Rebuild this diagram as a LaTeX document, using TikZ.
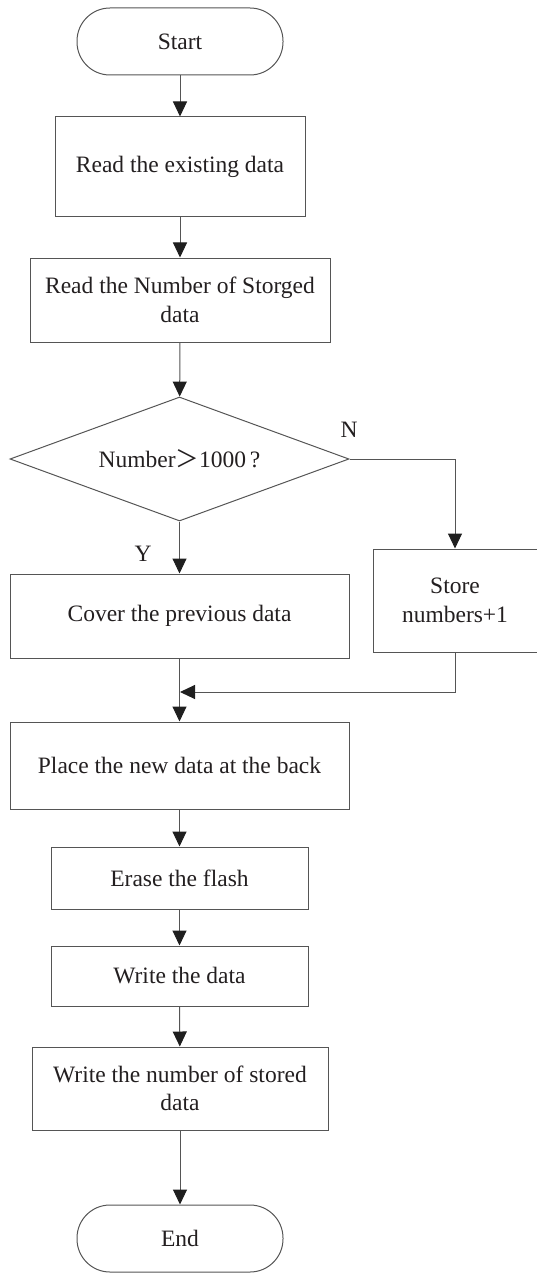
\documentclass[tikz,border=0pt]{standalone}
\usepackage{fontspec}
\setmainfont{Liberation Serif}
\newfontfamily\cjk{Noto Sans CJK SC}
\usetikzlibrary{shapes.geometric,arrows.meta}
\definecolor{ln}{HTML}{555555}
\definecolor{tx}{HTML}{231F20}
\tikzset{
  every node/.style={font=\fontsize{23.5}{28.5}\selectfont, text=tx, align=center},
  procbox/.style={draw=ln, line width=1pt, rectangle, inner sep=0pt},
  termbox/.style={draw=ln, line width=1pt, rectangle, rounded corners=33pt, inner sep=0pt, minimum width=206pt, minimum height=67pt},
  decbox/.style={draw=ln, line width=1pt, diamond, aspect=2.73, inner sep=0pt, minimum width=339pt, minimum height=124pt},
  flow/.style={draw=ln, line width=1pt, -{Triangle[length=15pt,width=14pt]}, arrows={[color=black!88]}},
  lbl/.style={inner sep=0pt}
}
\begin{document}
\begin{tikzpicture}[x=1pt,y=-1pt]
\useasboundingbox (0,0) rectangle (536,1273);
\node[termbox] (start) at (180,41.5) {Start};
\node[procbox, minimum width=250pt, minimum height=100pt] (b1) at (180,167) {Read the existing data};
\node[procbox, minimum width=300pt, minimum height=84pt] (b2) at (180,300) {Read the Number of Storged\\data};
\node[decbox] (dec) at (179.5,459) {Number{\cjk ＞}1000\,?};
\node[lbl] (nl) at (349,430) {N};
\node[lbl] (yl) at (143,554) {Y};
\node[procbox, minimum width=339pt, minimum height=84pt] (cover) at (179.5,616) {Cover the previous data};
\node[procbox, minimum width=164pt, minimum height=103pt] (store) at (455,600.5) {Store\\numbers+1};
\node[procbox, minimum width=339pt, minimum height=87pt] (place) at (179.5,765.5) {Place the new data at the back};
\node[procbox, minimum width=257pt, minimum height=62pt] (erase) at (179.5,878) {Erase the flash};
\node[procbox, minimum width=257pt, minimum height=60pt] (write) at (179.5,976) {Write the data};
\node[procbox, minimum width=296pt, minimum height=83pt] (wnum) at (180,1088.5) {Write the number of stored\\data};
\node[termbox] (end) at (180,1238.5) {End};
\coordinate (mergeL) at (180,692);
\draw[flow] (start) -- (b1);
\draw[flow] (b1) -- (b2);
\draw[flow] (b2) -- (dec);
\draw[flow] (dec.south) -- (cover.north);
\draw[flow] (dec.east) -| (store.north);
\draw[flow] (cover.south) -- (place.north);
\draw[flow] (store.south) |- (mergeL);
\draw[flow] (place) -- (erase);
\draw[flow] (erase) -- (write);
\draw[flow] (write) -- (wnum);
\draw[flow] (wnum) -- (end);
\end{tikzpicture}
\end{document}
